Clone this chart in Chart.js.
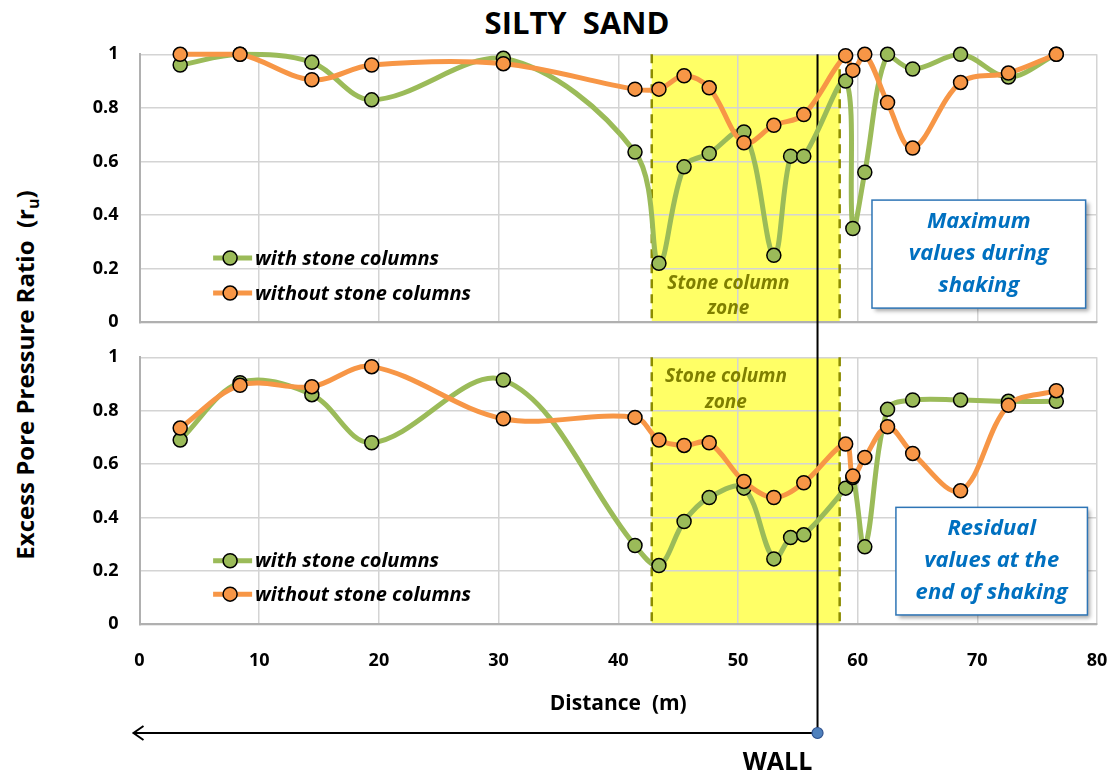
<!DOCTYPE html>
<html>
<head>
<meta charset="utf-8">
<script src="https://cdn.jsdelivr.net/npm/chart.js@4.4.1/dist/chart.umd.min.js"></script>
<style>
  body { margin: 0; background: #fff; }
  #wrap { position: relative; width: 1113px; height: 778px; overflow: hidden; }
  canvas { position: absolute; left: 0; }
  #title { position: absolute; top: 2px; left: 427px; width: 300px; text-align: center;
           font: bold 31px "Open Sans", sans-serif; line-height: 40px; color: #000; white-space: pre; }
  #ytitle { position: absolute; left: 26px; top: 375px; transform: translate(-50%, -50%) rotate(-90deg);
            white-space: pre; font: bold 24px "Open Sans", sans-serif; color: #000; }
  #ytitle sub { font-size: 16px; }
</style>
</head>
<body>
<div id="wrap">
  <div id="title">SILTY  SAND</div>
  <div id="ytitle">Excess Pore Pressure Ratio  (r<sub>u</sub>)</div>
  <canvas id="topChart" width="1113" height="340" style="top:0"></canvas>
  <canvas id="bottomChart" width="1113" height="438" style="top:340px"></canvas>
</div>
<script>
// Axis ranges
const xMin = 0, xMax = 80, xStep = 10;
const yMin = 0, yMax = 1, yStep = 0.2;

// Stone column zone and wall location (m)
const zoneStart = 42.8;
const zoneEnd = 58.5;
const wallAt = 56.65;

const seriesLabels = ['with stone columns', 'without stone columns'];

// Maximum values during shaking (top panel)
const maxWithX = [3.4, 8.4, 14.4, 19.4, 30.4, 41.4, 43.4, 45.5, 47.6, 50.5, 53.0, 54.4, 55.5, 59.0, 59.6, 60.6, 62.5, 64.6, 68.6, 72.6, 76.6];
const maxWithY = [0.96, 1.0, 0.97, 0.83, 0.985, 0.635, 0.22, 0.58, 0.63, 0.71, 0.25, 0.62, 0.62, 0.90, 0.35, 0.56, 1.0, 0.945, 1.0, 0.915, 1.0];
const maxWithoutX = [3.4, 8.4, 14.4, 19.4, 30.4, 41.4, 43.4, 45.5, 47.6, 50.5, 53.0, 55.5, 59.0, 59.6, 60.6, 62.5, 64.6, 68.6, 72.6, 76.6];
const maxWithoutY = [1.0, 1.0, 0.905, 0.96, 0.965, 0.87, 0.87, 0.92, 0.875, 0.67, 0.735, 0.775, 0.995, 0.94, 1.0, 0.82, 0.65, 0.895, 0.93, 1.0];

// Residual values at the end of shaking (bottom panel)
const resWithX = [3.4, 8.4, 14.4, 19.4, 30.4, 41.4, 43.4, 45.5, 47.6, 50.5, 53.0, 54.4, 55.5, 59.0, 59.6, 60.6, 62.5, 64.6, 68.6, 72.6, 76.6];
const resWithY = [0.69, 0.905, 0.86, 0.68, 0.915, 0.295, 0.22, 0.385, 0.475, 0.51, 0.245, 0.325, 0.335, 0.51, 0.55, 0.29, 0.805, 0.84, 0.84, 0.835, 0.835];
const resWithoutX = [3.4, 8.4, 14.4, 19.4, 30.4, 41.4, 43.4, 45.5, 47.6, 50.5, 53.0, 55.5, 59.0, 59.6, 60.6, 62.5, 64.6, 68.6, 72.6, 76.6];
const resWithoutY = [0.735, 0.895, 0.89, 0.965, 0.77, 0.775, 0.69, 0.67, 0.68, 0.535, 0.475, 0.53, 0.675, 0.555, 0.625, 0.74, 0.64, 0.5, 0.82, 0.875];

const GREEN = '#9BBB59';
const ORANGE = '#F79646';
const NOTE_BLUE = '#0070C0';
const ZONE_TEXT = '#7F7F00';
const FONT = '"Open Sans", sans-serif';

function toPoints(xs, ys) {
    return xs.map((x, i) => ({ x: x, y: ys[i] }));
}

// no automatic label overflow padding, the plot box is set by layout.padding
function fixScale(s, size) {
    if (s.isHorizontal()) s.height = size; else s.width = size;
    s.paddingTop = s.paddingBottom = s.paddingLeft = s.paddingRight = 0;
}

function drawLegendRow(ctx, x, y, color, label) {
    ctx.save();
    ctx.strokeStyle = color;
    ctx.lineWidth = 5;
    ctx.beginPath();
    ctx.moveTo(x, y);
    ctx.lineTo(x + 39, y);
    ctx.stroke();
    ctx.beginPath();
    ctx.arc(x + 17, y, 7, 0, Math.PI * 2);
    ctx.fillStyle = color;
    ctx.fill();
    ctx.lineWidth = 1.5;
    ctx.strokeStyle = '#000';
    ctx.stroke();
    ctx.fillStyle = '#000';
    ctx.font = 'italic bold 20px ' + FONT;
    ctx.textBaseline = 'middle';
    ctx.fillText(label, x + 42, y + 1);
    ctx.restore();
}

function drawNote(ctx, x1, y1, x2, y2, lines) {
    ctx.save();
    ctx.shadowColor = 'rgba(0,0,0,0.35)';
    ctx.shadowBlur = 4;
    ctx.shadowOffsetX = 3;
    ctx.shadowOffsetY = 3;
    ctx.fillStyle = '#fff';
    ctx.fillRect(x1, y1, x2 - x1, y2 - y1);
    ctx.shadowColor = 'transparent';
    ctx.strokeStyle = '#2E75B6';
    ctx.lineWidth = 1.5;
    ctx.strokeRect(x1, y1, x2 - x1, y2 - y1);
    ctx.fillStyle = NOTE_BLUE;
    ctx.font = 'italic bold 22px ' + FONT;
    ctx.textAlign = 'center';
    ctx.textBaseline = 'middle';
    const cx = (x1 + x2) / 2, cy = (y1 + y2) / 2;
    lines.forEach((t, i) => {
        ctx.fillText(t, cx, cy + (i - (lines.length - 1) / 2) * 32);
    });
    ctx.restore();
}

// Annotations: zone shading, dashed edges, wall line, legend, note box
function makeOverlay(cfg) {
    return {
        id: 'overlay',
        beforeDraw(chart) {
            const { ctx, chartArea: a, scales: { x } } = chart;
            const x1 = x.getPixelForValue(zoneStart), x2 = x.getPixelForValue(zoneEnd);
            ctx.save();
            ctx.fillStyle = '#FFFF66';
            ctx.fillRect(x1, a.top, x2 - x1, a.bottom - a.top);
            ctx.restore();
        },
        beforeDatasetsDraw(chart) {
            const { ctx, chartArea: a, scales: { x, y } } = chart;
            ctx.save();
            ctx.strokeStyle = '#8C8C00';
            ctx.lineWidth = 2.5;
            ctx.setLineDash([9, 6]);
            [zoneStart, zoneEnd].forEach(v => {
                const px = x.getPixelForValue(v);
                ctx.beginPath();
                ctx.moveTo(px, a.top);
                ctx.lineTo(px, a.bottom);
                ctx.stroke();
            });
            ctx.setLineDash([]);
            const wx = x.getPixelForValue(wallAt);
            ctx.strokeStyle = '#000';
            ctx.lineWidth = 2;
            ctx.beginPath();
            ctx.moveTo(wx, cfg.wallTop(a));
            ctx.lineTo(wx, cfg.wallBottom(chart));
            ctx.stroke();

            ctx.fillStyle = ZONE_TEXT;
            ctx.font = 'italic bold 19px ' + FONT;
            ctx.textAlign = 'center';
            ctx.textBaseline = 'middle';
            cfg.zoneText.forEach(t => {
                ctx.fillText(t.text, x.getPixelForValue(t.x), y.getPixelForValue(t.y));
            });
            ctx.restore();
        },
        afterDraw(chart) {
            const { ctx, scales: { x, y } } = chart;
            const lx = x.getPixelForValue(cfg.legendX);
            drawLegendRow(ctx, lx, y.getPixelForValue(cfg.legendY[0]), GREEN, seriesLabels[0]);
            drawLegendRow(ctx, lx, y.getPixelForValue(cfg.legendY[1]), ORANGE, seriesLabels[1]);
            const n = cfg.note;
            drawNote(ctx, x.getPixelForValue(n.x1), y.getPixelForValue(n.y1),
                x.getPixelForValue(n.x2), y.getPixelForValue(n.y2), n.lines);
            if (cfg.arrowY) {
                const wx = x.getPixelForValue(wallAt);
                const ay = cfg.arrowY;
                const tip = x.left - 6;
                ctx.save();
                ctx.strokeStyle = '#000';
                ctx.lineWidth = 2;
                ctx.beginPath();
                ctx.moveTo(wx, ay);
                ctx.lineTo(tip, ay);
                ctx.moveTo(tip + 10, ay - 7);
                ctx.lineTo(tip, ay);
                ctx.lineTo(tip + 10, ay + 7);
                ctx.stroke();
                ctx.beginPath();
                ctx.arc(wx, ay, 5.5, 0, Math.PI * 2);
                ctx.fillStyle = '#4F81BD';
                ctx.fill();
                ctx.lineWidth = 1.2;
                ctx.strokeStyle = '#2F528F';
                ctx.stroke();
                ctx.fillStyle = '#000';
                ctx.font = 'bold 25px ' + FONT;
                ctx.textAlign = 'center';
                ctx.textBaseline = 'middle';
                ctx.fillText('WALL', wx - 40, ay + 30);
                ctx.restore();
            }
        }
    };
}

function makeChart(canvasId, withX, withY, withoutX, withoutY, cfg) {
    return new Chart(document.getElementById(canvasId), {
        type: 'line',
        data: {
            datasets: [
                {
                    label: seriesLabels[0],
                    data: toPoints(withX, withY),
                    borderColor: GREEN,
                    pointBackgroundColor: GREEN,
                    pointBorderColor: '#000',
                    order: 1
                },
                {
                    label: seriesLabels[1],
                    data: toPoints(withoutX, withoutY),
                    borderColor: ORANGE,
                    pointBackgroundColor: ORANGE,
                    pointBorderColor: '#000',
                    order: 0
                }
            ]
        },
        options: {
            responsive: false,
            animation: false,
            events: [],
            layout: { padding: cfg.padding },
            plugins: { legend: { display: false }, tooltip: { enabled: false } },
            elements: {
                line: { tension: 0.35, borderWidth: 5, fill: false },
                point: { radius: 7, hoverRadius: 7, borderWidth: 1.5 }
            },
            datasets: { line: { clip: false } },
            scales: {
                x: {
                    type: 'linear',
                    min: xMin, max: xMax,
                    ticks: {
                        stepSize: xStep,
                        display: cfg.showX,
                        padding: 26,
                        color: '#000',
                        font: { family: FONT, size: 18, weight: 'bold' }
                    },
                    grid: { color: '#D4D4D4', lineWidth: 1.5, drawTicks: false },
                    border: { color: '#B0B0B0', width: 2 },
                    title: {
                        display: cfg.showX,
                        text: 'Distance  (m)',
                        color: '#000',
                        font: { family: FONT, size: 21, weight: 'bold' },
                        padding: { top: 0, bottom: 61 }
                    },
                    afterFit: s => fixScale(s, cfg.xHeight)
                },
                y: {
                    min: yMin, max: yMax,
                    ticks: {
                        stepSize: yStep,
                        padding: 21,
                        color: '#000',
                        font: { family: FONT, size: 18, weight: 'bold' },
                        callback: v => String(Number(v.toFixed(1)))
                    },
                    grid: { color: '#D4D4D4', lineWidth: 1.5, drawTicks: false },
                    border: { color: '#B0B0B0', width: 2 },
                    afterFit: s => fixScale(s, 139.5)
                }
            }
        },
        plugins: [makeOverlay(cfg)]
    });
}

makeChart('topChart', maxWithX, maxWithY, maxWithoutX, maxWithoutY, {
    padding: { top: 54.3, right: 16, bottom: 17.7, left: 0 },
    showX: false,
    xHeight: 0,
    wallTop: a => a.top,
    wallBottom: chart => chart.height,
    zoneText: [
        { text: 'Stone column', x: 49.2, y: 0.143 },
        { text: 'zone', x: 49.2, y: 0.05 }
    ],
    legendX: 6.15,
    legendY: [0.24, 0.109],
    note: { x1: 61.2, y1: 0.456, x2: 79.05, y2: 0.053, lines: ['Maximum', 'values during', 'shaking'] }
});

makeChart('bottomChart', resWithX, resWithY, resWithoutX, resWithoutY, {
    padding: { top: 17.3, right: 16, bottom: 0, left: 0 },
    showX: true,
    xHeight: 153.7,
    wallTop: () => 0,
    wallBottom: () => 393,
    arrowY: 393,
    zoneText: [
        { text: 'Stone column', x: 49.0, y: 0.926 },
        { text: 'zone', x: 49.0, y: 0.83 }
    ],
    legendX: 6.15,
    legendY: [0.238, 0.113],
    note: { x1: 63.2, y1: 0.438, x2: 79.2, y2: 0.035, lines: ['Residual', 'values at the', 'end of shaking'] }
});
</script>
</body>
</html>
